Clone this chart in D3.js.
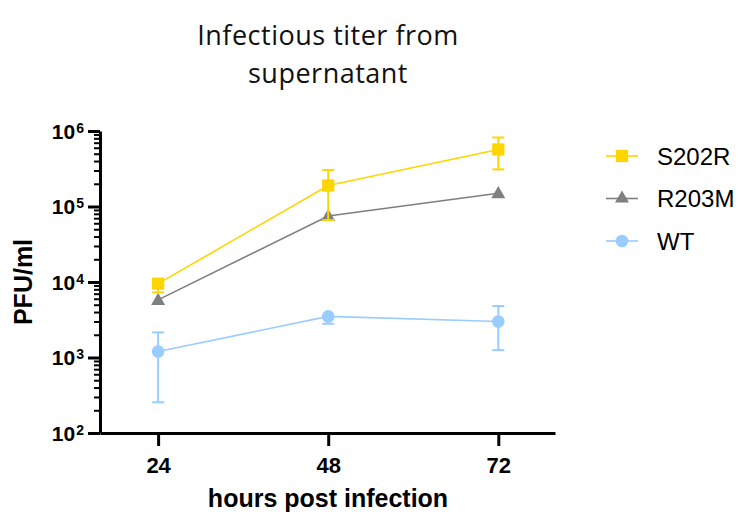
<!DOCTYPE html>
<html>
<head>
<meta charset="utf-8">
<script src="https://cdn.jsdelivr.net/npm/d3@7"></script>
<style>
  body { margin: 0; background: #fff; }
  svg { display: block; }
</style>
</head>
<body>
<svg id="chart" width="745" height="522"></svg>
<script>
// ---- data ----
const hours = [24, 48, 72];
const seriesNames = ["S202R", "R203M", "WT"];
const s202rMean = [9500, 190000, 570000];
const s202rLow  = [7300, 66000, 310000];
const s202rHigh = [9500, 305000, 820000];
const r203mMean = [5800, 75000, 150000];
const r203mLow  = [5800, 75000, 150000];
const r203mHigh = [5800, 75000, 150000];
const wtMean = [1200, 3500, 3000];
const wtLow  = [255, 2800, 1250];
const wtHigh = [2150, 3500, 4800];
const yTickExps = [2, 3, 4, 5, 6];
const xTickLabels = ["24", "48", "72"];
const titleLines = ["Infectious titer from", "supernatant"];
const yLabel = "PFU/ml";
const xLabel = "hours post infection";

const colors = { S202R: "#FFD500", R203M: "#7F7F7F", WT: "#99CCFF" };
const series = [
  { name: "WT", mean: wtMean, low: wtLow, high: wtHigh, shape: "circle" },
  { name: "R203M", mean: r203mMean, low: r203mLow, high: r203mHigh, shape: "triangle" },
  { name: "S202R", mean: s202rMean, low: s202rLow, high: s202rHigh, shape: "square" }
];

const svg = d3.select("#chart");
const x = d3.scaleLinear().domain([15.8, 80]).range([100, 555]);
const y = d3.scaleLog().domain([1e2, 1e6]).range([433, 131]);

const font = "'Liberation Sans', Arial, Helvetica, sans-serif";

// title
svg.append("text")
  .attr("text-anchor", "middle")
  .attr("font-family", "'Open Sans', sans-serif").attr("font-size", 27)
  .attr("letter-spacing", 0.5).attr("fill", "#111")
  .selectAll("tspan").data(titleLines).join("tspan")
  .attr("x", 328).attr("y", (d, i) => 45 + i * 38).text(d => d);

// minor y ticks
const minorVals = [];
for (let e = 2; e < 6; e++) for (let m = 2; m <= 9; m++) minorVals.push(m * Math.pow(10, e));
const gMinor = svg.append("g").attr("transform", "translate(100,0)")
  .call(d3.axisLeft(y).tickValues(minorVals).tickSize(6).tickFormat(""));
gMinor.select(".domain").remove();
gMinor.selectAll("line").attr("stroke", "#000").attr("stroke-width", 2);

// major y ticks
const gY = svg.append("g").attr("transform", "translate(100,0)")
  .call(d3.axisLeft(y).tickValues(yTickExps.map(e => Math.pow(10, e))).tickSize(12).tickSizeOuter(0).tickFormat(""));
gY.select(".domain").attr("stroke", "#000").attr("stroke-width", 3);
gY.selectAll(".tick line").attr("stroke", "#000").attr("stroke-width", 3);
gY.selectAll(".tick").each(function(d, i) {
  const t = d3.select(this).append("text")
    .attr("x", -16).attr("y", 7).attr("text-anchor", "end")
    .attr("font-family", font).attr("font-weight", "bold").attr("fill", "#000");
  t.append("tspan").attr("font-size", 21).text("10");
  t.append("tspan").attr("font-size", 14).attr("dy", -6).attr("dx", 1).text(String(yTickExps[i]));
});

// x axis
const gX = svg.append("g").attr("transform", "translate(0,433)")
  .call(d3.axisBottom(x).tickValues(hours).tickSize(13).tickSizeOuter(0).tickFormat((d, i) => xTickLabels[i]));
gX.select(".domain").attr("stroke", "#000").attr("stroke-width", 3);
gX.selectAll(".tick line").attr("stroke", "#000").attr("stroke-width", 3);
gX.selectAll(".tick text").attr("font-family", font).attr("font-weight", "bold")
  .attr("font-size", 22).attr("fill", "#000").attr("y", 24).attr("dy", "0.71em");

// axis labels
svg.append("text").attr("transform", "translate(32,282) rotate(-90)")
  .attr("text-anchor", "middle").attr("font-family", font).attr("font-weight", "bold")
  .attr("font-size", 25).attr("fill", "#000").text(yLabel);
svg.append("text").attr("x", 328).attr("y", 507).attr("text-anchor", "middle")
  .attr("font-family", font).attr("font-weight", "bold").attr("font-size", 25)
  .attr("fill", "#000").text(xLabel);

const symbolFor = s => s === "circle" ? d3.symbol(d3.symbolCircle, 125)
  : s === "square" ? d3.symbol(d3.symbolSquare, 150)
  : d3.symbol(d3.symbolTriangle, 85);

const plot = svg.append("g");
series.forEach(s => {
  const c = colors[s.name];
  const g = plot.append("g");
  const pts = hours.map((h, i) => ({ h, m: s.mean[i], lo: s.low[i], hi: s.high[i] }));
  // error bars
  pts.forEach(p => {
    if (p.lo === p.hi) return;
    g.append("line").attr("x1", x(p.h)).attr("x2", x(p.h)).attr("y1", y(p.lo)).attr("y2", y(p.hi))
      .attr("stroke", c).attr("stroke-width", 2);
    [p.lo, p.hi].forEach(v => {
      if (v === p.m) return;
      g.append("line").attr("x1", x(p.h) - 6).attr("x2", x(p.h) + 6).attr("y1", y(v)).attr("y2", y(v))
        .attr("stroke", c).attr("stroke-width", 2);
    });
  });
  g.append("path").datum(pts)
    .attr("d", d3.line().x(p => x(p.h)).y(p => y(p.m)))
    .attr("fill", "none").attr("stroke", c).attr("stroke-width", 1.6);
  g.selectAll(".pt").data(pts).join("path")
    .attr("transform", p => `translate(${x(p.h)},${y(p.m) + (s.shape === "triangle" ? 1 : 0)})`)
    .attr("d", symbolFor(s.shape)()).attr("fill", c);
});

// legend
const legendShapes = { S202R: "square", R203M: "triangle", WT: "circle" };
const leg = svg.append("g");
seriesNames.forEach((n, i) => {
  const yy = 156 + i * 42.5;
  const c = colors[n];
  leg.append("line").attr("x1", 606).attr("x2", 638).attr("y1", yy).attr("y2", yy)
    .attr("stroke", c).attr("stroke-width", 1.6);
  leg.append("path").attr("transform", `translate(622,${yy})`)
    .attr("d", symbolFor(legendShapes[n])()).attr("fill", c);
  leg.append("text").attr("x", 657).attr("y", yy + 8.5).attr("font-family", font)
    .attr("font-size", 24).attr("fill", "#000").text(n);
});
</script>
</body>
</html>
